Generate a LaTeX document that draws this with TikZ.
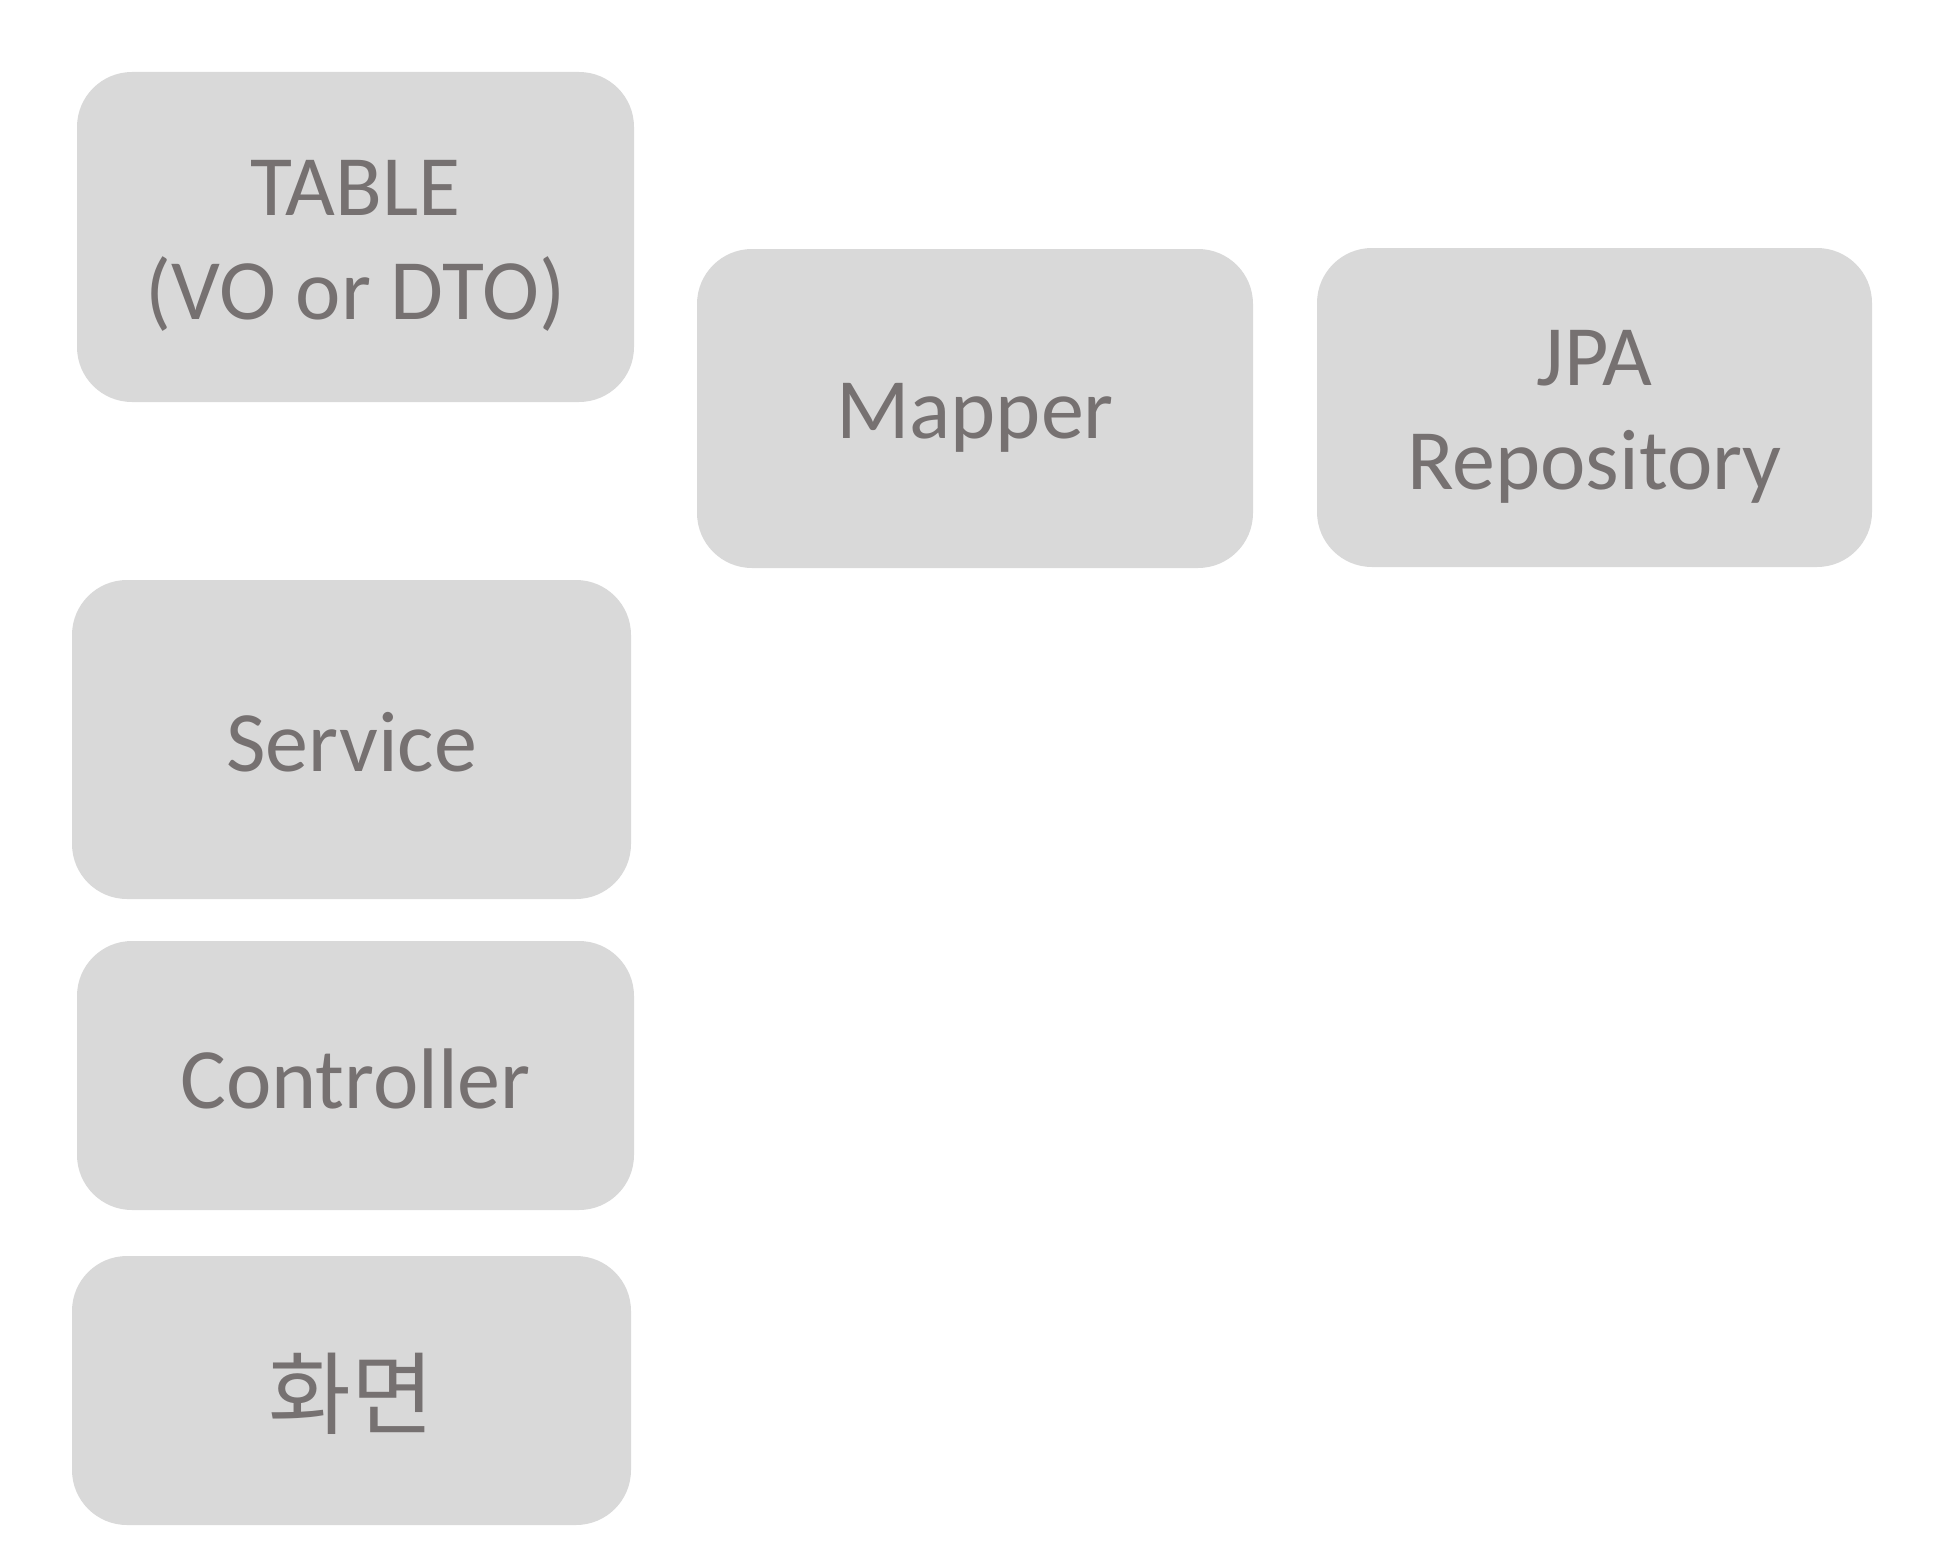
\documentclass[tikz,border=0pt]{standalone}
\usepackage{fontspec}
\setmainfont{Carlito}
\newfontfamily\krfont{Noto Sans CJK KR}
\definecolor{boxfill}{HTML}{D9D9D9}
\definecolor{boxtext}{HTML}{767171}
\begin{document}
\begin{tikzpicture}[x=1pt,y=-1pt,
  card/.style={rounded corners=55pt, fill=boxfill, draw=none, inner sep=0pt},
  cardtext/.style={inner sep=0pt, text=boxtext, align=center, font=\fontsize{86}{104}\selectfont},
  krtext/.style={inner sep=0pt, text=boxtext, font=\krfont\fontsize{90}{104}\selectfont}]
\useasboundingbox (0,0) rectangle (1944,1560);
\node[card, minimum width=557pt, minimum height=330pt] (table) at (355.5,237) {};
\node[card, minimum width=556pt, minimum height=319pt] (mapper) at (975,408.5) {};
\node[card, minimum width=555pt, minimum height=319pt] (jpa) at (1594.5,407.5) {};
\node[card, minimum width=559pt, minimum height=319pt] (service) at (351.5,739.5) {};
\node[card, minimum width=557pt, minimum height=269pt] (controller) at (355.5,1075.5) {};
\node[card, minimum width=559pt, minimum height=269pt] (screen) at (351.5,1390.5) {};
\node[cardtext] (tableT) at ([yshift=-9pt]table.center) {TABLE\\(VO or DTO)};
\node[cardtext] (mapperT) at ([yshift=-9pt]mapper.center) {Mapper};
\node[cardtext] (jpaT) at ([yshift=-9pt]jpa.center) {JPA\\Repository};
\node[cardtext] (serviceT) at ([yshift=-3pt]service.center) {Service};
\node[cardtext] (controllerT) at ([yshift=-3pt]controller.center) {Controller};
\node[krtext] (screenT) at ([yshift=-3pt]screen.center) {화면};
\end{tikzpicture}
\end{document}
